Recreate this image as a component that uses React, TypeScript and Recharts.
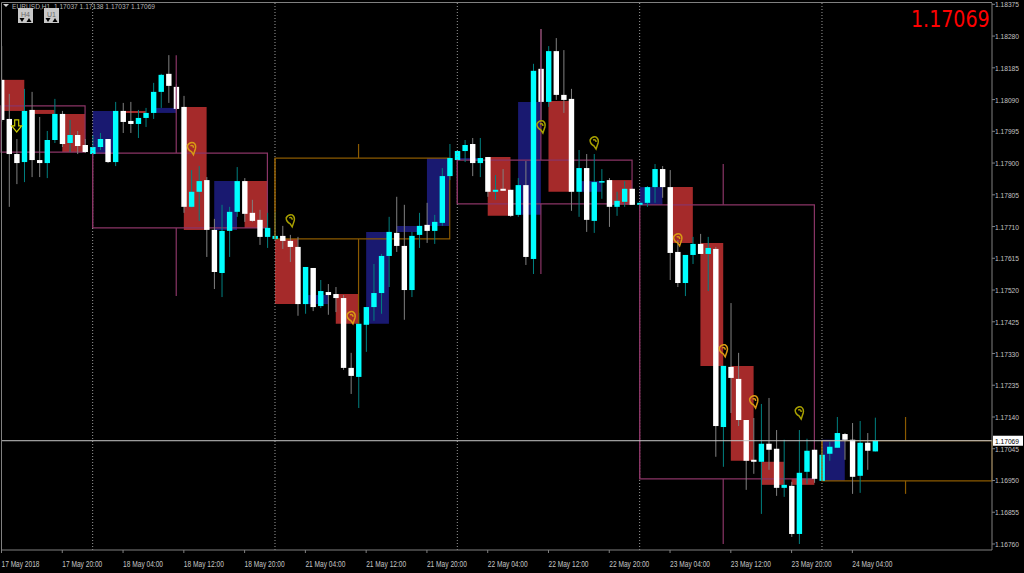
import { Bar, ComposedChart, ReferenceArea, ReferenceLine, Scatter, XAxis, YAxis } from 'recharts';

// EURUSD H1 candles, oldest first, starting 17 May 2018 12:00
const opens = [
  1.18149, 1.18032, 1.17927, 1.17903, 1.18059, 1.17909, 1.17900, 1.17969, 1.18047, 1.17960, 1.17984, 1.17954,
  1.17927, 1.17948, 1.17972, 1.17903, 1.18056, 1.18026, 1.18017, 1.18035, 1.18050, 1.18113, 1.18167, 1.18128,
  1.18068, 1.17769, 1.17814, 1.17849, 1.17700, 1.17571, 1.17697, 1.17754, 1.17846, 1.17751, 1.17730, 1.17679,
  1.17673, 1.17682, 1.17667, 1.17649, 1.17478, 1.17586, 1.17472, 1.17514, 1.17508, 1.17496, 1.17287, 1.17260,
  1.17416, 1.17469, 1.17511, 1.17622, 1.17691, 1.17652, 1.17520, 1.17685, 1.17715, 1.17697, 1.17721, 1.17861,
  1.17909, 1.17936, 1.17957, 1.17900, 1.17918, 1.17814, 1.17823, 1.17820, 1.17745, 1.17834, 1.17613, 1.18182,
  1.18083, 1.18235, 1.18104, 1.18092, 1.17814, 1.17885, 1.17727, 1.17843, 1.17849, 1.17769, 1.17784, 1.17823,
  1.17775, 1.17781, 1.17828, 1.17882, 1.17828, 1.17634, 1.17541, 1.17625, 1.17658, 1.17628, 1.17643, 1.17110,
  1.17290, 1.17254, 1.17131, 1.17012, 1.17006, 1.17060, 1.17045, 1.16928, 1.16934, 1.16790, 1.16976, 1.17042,
  1.16949, 1.17030, 1.17048, 1.17089, 1.17072, 1.16964, 1.17063, 1.17037,
];
const highs = [
  1.18250, 1.18107, 1.17972, 1.18122, 1.18113, 1.18038, 1.17996, 1.18092, 1.18056, 1.18029, 1.17996, 1.17972,
  1.17984, 1.17990, 1.17972, 1.18083, 1.18080, 1.18083, 1.18059, 1.18065, 1.18140, 1.18167, 1.18223, 1.18137,
  1.18101, 1.17879, 1.17891, 1.17858, 1.17733, 1.17775, 1.17769, 1.17888, 1.17855, 1.17790, 1.17760, 1.17751,
  1.17754, 1.17712, 1.17685, 1.17679, 1.17589, 1.17586, 1.17550, 1.17538, 1.17529, 1.17505, 1.17332, 1.17452,
  1.17469, 1.17598, 1.17628, 1.17739, 1.17799, 1.17775, 1.17694, 1.17751, 1.17781, 1.17745, 1.17885, 1.17957,
  1.17936, 1.17969, 1.17975, 1.17975, 1.17918, 1.17864, 1.17882, 1.17820, 1.17855, 1.17906, 1.18197, 1.18301,
  1.18250, 1.18274, 1.18238, 1.18122, 1.17939, 1.17927, 1.17927, 1.17882, 1.17855, 1.17814, 1.17846, 1.17823,
  1.17781, 1.17831, 1.17897, 1.17891, 1.17879, 1.17670, 1.17625, 1.17679, 1.17688, 1.17679, 1.17649, 1.17293,
  1.17481, 1.17332, 1.17131, 1.17137, 1.17179, 1.17197, 1.17101, 1.17072, 1.16946, 1.17101, 1.17075, 1.17042,
  1.17042, 1.17066, 1.17140, 1.17092, 1.17122, 1.17128, 1.17092, 1.17138,
];
const lows = [
  1.18023, 1.17769, 1.17837, 1.17843, 1.17858, 1.17858, 1.17855, 1.17960, 1.17948, 1.17933, 1.17927, 1.17930,
  1.17924, 1.17939, 1.17900, 1.17891, 1.17990, 1.17990, 1.17975, 1.18008, 1.18032, 1.18065, 1.18080, 1.18059,
  1.17751, 1.17766, 1.17727, 1.17619, 1.17523, 1.17499, 1.17619, 1.17739, 1.17724, 1.17724, 1.17655, 1.17646,
  1.17670, 1.17643, 1.17604, 1.17443, 1.17449, 1.17457, 1.17466, 1.17446, 1.17454, 1.17281, 1.17209, 1.17167,
  1.17335, 1.17428, 1.17449, 1.17529, 1.17634, 1.17431, 1.17499, 1.17646, 1.17661, 1.17658, 1.17712, 1.17849,
  1.17900, 1.17903, 1.17861, 1.17858, 1.17799, 1.17790, 1.17817, 1.17739, 1.17739, 1.17595, 1.17568, 1.18029,
  1.18068, 1.18089, 1.18050, 1.17757, 1.17739, 1.17694, 1.17691, 1.17793, 1.17709, 1.17742, 1.17769, 1.17775,
  1.17769, 1.17769, 1.17781, 1.17796, 1.17550, 1.17529, 1.17502, 1.17598, 1.17628, 1.17517, 1.17021, 1.16991,
  1.17152, 1.17113, 1.16922, 1.16970, 1.16850, 1.16982, 1.16904, 1.16901, 1.16781, 1.16760, 1.16940, 1.16943,
  1.16949, 1.17009, 1.17048, 1.17012, 1.16910, 1.16913, 1.16982, 1.17037,
];
const closes = [
  1.18029, 1.17927, 1.17900, 1.18056, 1.17909, 1.17900, 1.17969, 1.18047, 1.17957, 1.17984, 1.17951, 1.17933,
  1.17948, 1.17972, 1.17903, 1.18056, 1.18023, 1.18017, 1.18035, 1.18050, 1.18113, 1.18164, 1.18131, 1.18062,
  1.17769, 1.17814, 1.17846, 1.17700, 1.17574, 1.17697, 1.17754, 1.17846, 1.17748, 1.17727, 1.17679, 1.17706,
  1.17682, 1.17667, 1.17649, 1.17478, 1.17589, 1.17469, 1.17517, 1.17505, 1.17496, 1.17287, 1.17263, 1.17419,
  1.17469, 1.17511, 1.17622, 1.17694, 1.17652, 1.17520, 1.17682, 1.17712, 1.17697, 1.17724, 1.17861, 1.17915,
  1.17936, 1.17954, 1.17900, 1.17915, 1.17814, 1.17820, 1.17817, 1.17742, 1.17834, 1.17619, 1.18176, 1.18083,
  1.18235, 1.18104, 1.18089, 1.17814, 1.17885, 1.17730, 1.17843, 1.17846, 1.17769, 1.17787, 1.17823, 1.17775,
  1.17781, 1.17828, 1.17882, 1.17828, 1.17631, 1.17541, 1.17625, 1.17658, 1.17628, 1.17646, 1.17113, 1.17293,
  1.17257, 1.17131, 1.17009, 1.17006, 1.17060, 1.17042, 1.16928, 1.16937, 1.16790, 1.16973, 1.17039, 1.16955,
  1.17027, 1.17051, 1.17092, 1.17072, 1.16961, 1.17063, 1.17039, 1.17069,
];

// H4 candles: [first H1 bar, open, close]
const h4Candles = [
  [0, 1.18149, 1.18056], [4, 1.18059, 1.18047], [8, 1.18047, 1.17933], [12, 1.17927, 1.18056],
  [16, 1.18056, 1.18050], [20, 1.18050, 1.18065], [24, 1.18068, 1.17700], [28, 1.17700, 1.17846],
  [32, 1.17846, 1.17706], [36, 1.17673, 1.17478], [40, 1.17478, 1.17505], [44, 1.17508, 1.17419],
  [48, 1.17419, 1.17694], [52, 1.17694, 1.17712], [56, 1.17712, 1.17915], [60, 1.17909, 1.17915],
  [64, 1.17918, 1.17742], [68, 1.17745, 1.18083], [72, 1.18086, 1.17814], [76, 1.17814, 1.17846],
  [80, 1.17849, 1.17775], [84, 1.17775, 1.17828], [88, 1.17828, 1.17661], [92, 1.17661, 1.17293],
  [96, 1.17293, 1.17009], [100, 1.17006, 1.16937], [104, 1.16955, 1.16937], [108, 1.16949, 1.17072],
];

// D1 candles: [first bar, last bar, wick bar, open, close, high, low]
const d1Candles = [
  [-0.066, 11, -1, 1.18071, 1.17933, 0, 0],
  [12, 35, 23, 1.17930, 1.17706, 1.18223, 1.17502],
  [36, 59, 47, 1.17673, 1.17915, 1.17957, 1.17419],
  [60, 83, 71, 1.17909, 1.17778, 1.18301, 1.17568],
  [84, 107, 95, 1.17775, 1.16955, 1.17897, 1.16760],
  [108, 130.38, 119, 1.16949, 1.17069, 1.17140, 1.16910],
];

const signals = [
  { i: 25, price: 1.17943, hot: true }, { i: 38, price: 1.17727, hot: false }, { i: 46, price: 1.17437, hot: true },
  { i: 71, price: 1.18008, hot: false }, { i: 78, price: 1.1796, hot: false }, { i: 89, price: 1.1767, hot: true },
  { i: 95, price: 1.17338, hot: true }, { i: 99, price: 1.17185, hot: true }, { i: 105, price: 1.17152, hot: false },
];
const arrows = [{ i: 2, price: 1.18011 }];

const yTicks = [
  1.18375, 1.1828, 1.18185, 1.1809, 1.17995, 1.179, 1.17805, 1.1771, 1.17615, 1.1752, 1.17425, 1.1733, 1.17235,
  1.1714, 1.17045, 1.1695, 1.16855, 1.1676,
];
const timeLabels = [
  '17 May 2018', '17 May 20:00', '18 May 04:00', '18 May 12:00', '18 May 20:00', '21 May 04:00', '21 May 12:00',
  '21 May 20:00', '22 May 04:00', '22 May 12:00', '22 May 20:00', '23 May 04:00', '23 May 12:00', '23 May 20:00',
  '24 May 04:00',
];
const timeTicks = timeLabels.map((_, n) => n * 8);
const daySeparators = [12, 36, 60, 84, 108];
const lastPrice = 1.17069;

const candles = opens.map((open, i) => ({
  i,
  open,
  close: closes[i],
  range: [lows[i], highs[i]],
}));

const FONT = '"Liberation Sans", Arial, sans-serif';
const BROWN = '#a52a2a';
const BLUE = '#191970';
const BEAR_LINE = '#8a3566';
const BULL_LINE = '#8b5a00';

function Candle(props: any) {
  const { x, y, width, height, payload } = props;
  const [low, high] = payload.range;
  const perUnit = height / (high - low);
  const cx = x + width / 2;
  const top = y + (high - Math.max(payload.open, payload.close)) * perUnit;
  const bottom = y + (high - Math.min(payload.open, payload.close)) * perUnit;
  const up = payload.close >= payload.open;
  return (
    <g>
      <line x1={cx} x2={cx} y1={y} y2={y + height} stroke={up ? '#008080' : '#808080'} strokeWidth={1} />
      <rect x={cx - 2.7} y={top} width={5.4} height={Math.max(bottom - top, 1.5)} fill={up ? '#00ffff' : '#ffffff'} />
    </g>
  );
}

function SignalMark(props: any) {
  const { cx, cy, payload } = props;
  const color = payload.hot ? '#d99a14' : '#a8a000';
  return (
    <g fill="none" stroke={color} strokeWidth={1.5}>
      <path d={`M${cx - 4} ${cy - 3} Q${cx - 2} ${cy - 7} ${cx + 2} ${cy - 6} Q${cx + 5} ${cy - 4} ${cx + 4} ${cy} Q${cx + 3} ${cy + 3} ${cx + 2} ${cy + 6} L${cx} ${cy + 3} Q${cx - 4} ${cy + 1} ${cx - 4} ${cy - 3} Z`} />
      <path d={`M${cx - 1} ${cy - 3} Q${cx + 2} ${cy - 4} ${cx + 2} ${cy - 1}`} />
    </g>
  );
}

function ArrowMark(props: any) {
  const { cx, cy } = props;
  return (
    <path
      d={`M${cx - 2} ${cy - 6} H${cx + 2} V${cy} H${cx + 5} L${cx} ${cy + 6} L${cx - 5} ${cy} H${cx - 2} Z`}
      fill="none"
      stroke="#c8c800"
      strokeWidth={1.2}
    />
  );
}

function PriceTick(props: any) {
  const { x, y, payload } = props;
  return (
    <text x={x - 2} y={y + 3} fill="#c4c4c4" fontFamily={FONT} fontSize={8} textLength={24} lengthAdjust="spacingAndGlyphs">
      {payload.value.toFixed(5)}
    </text>
  );
}

function TimeTick(props: any) {
  const { x, y, payload } = props;
  const label = timeLabels[payload.value / 8];
  return (
    <text x={x} y={y + 12} fill="#c4c4c4" fontFamily={FONT} fontSize={9} textLength={label.length === 11 ? 38 : 40} lengthAdjust="spacingAndGlyphs">
      {label}
    </text>
  );
}

function PriceTag(props: any) {
  const { viewBox } = props;
  const y = viewBox.y;
  return (
    <g>
      <rect x={993} y={y - 5} width={30} height={10} fill="#ffffff" />
      <text x={995} y={y + 3} fill="#000000" fontFamily={FONT} fontSize={8} textLength={24} lengthAdjust="spacingAndGlyphs">
        {lastPrice.toFixed(5)}
      </text>
    </g>
  );
}

function TimeframeButton({ x, label }: { x: number; label: string }) {
  return (
    <g>
      <rect x={x} y={8} width={15} height={15} fill="#c8c8c8" />
      <text x={x + 7.5} y={17} fill="#6a6a6a" fontFamily={FONT} fontSize={7} textAnchor="middle">{label}</text>
      <path d={`M${x + 1.5} ${18} h5 l-2.5 4 Z`} fill="#000000" />
      <path d={`M${x + 8.5} ${22} h5 l-2.5 -4 Z`} fill="#000000" />
    </g>
  );
}

export default function App() {
  return (
    <div style={{ position: 'absolute', left: 0, top: 0, width: 1024, height: 573, background: '#000000', overflow: 'hidden' }}>
      <ComposedChart width={1024} height={573} data={candles} margin={{ top: 3, right: 0, bottom: 0, left: 1 }}>
        <XAxis
          dataKey="i"
          type="number"
          domain={[-0.066, 130.38]}
          ticks={timeTicks}
          interval={0}
          height={23}
          stroke="#808080"
          tickSize={3}
          tick={<TimeTick />}
          allowDataOverflow
        />
        <YAxis
          orientation="right"
          type="number"
          domain={[1.16742, 1.18379]}
          ticks={yTicks}
          interval={0}
          width={32}
          stroke="#808080"
          tickSize={3}
          tick={<PriceTick />}
          allowDataOverflow
        />
        {h4Candles.map(([start, open, close]) => (
          <ReferenceArea
            key={start}
            x1={start}
            x2={start + 3}
            y1={open}
            y2={close}
            fill={close >= open ? BLUE : BROWN}
            fillOpacity={1}
            stroke="none"
          />
        ))}
        {d1Candles.map(([first, last, wick, open, close]) => (
          <ReferenceArea
            key={first}
            x1={first}
            x2={last}
            y1={open}
            y2={close}
            fill="none"
            stroke={close >= open ? BULL_LINE : BEAR_LINE}
            strokeWidth={1.2}
          />
        ))}
        {daySeparators.map((i) => (
          <ReferenceLine key={i} x={i} stroke="#9a9a9a" strokeDasharray="1 2" />
        ))}
        {/* left edges again, the day separators must not show through them */}
        {d1Candles.filter((d) => d[2] >= 0).map(([first, last, wick, open, close]) => (
          <ReferenceLine
            key={`edge${first}`}
            segment={[{ x: first, y: open }, { x: first, y: close }]}
            stroke={close >= open ? BULL_LINE : BEAR_LINE}
            strokeWidth={1.2}
          />
        ))}
        {d1Candles.filter((d) => d[2] >= 0).map(([first, last, wick, open, close, high, low]) => (
          <ReferenceLine
            key={`up${wick}`}
            segment={[{ x: wick, y: high }, { x: wick, y: Math.max(open, close) }]}
            stroke={close >= open ? BULL_LINE : BEAR_LINE}
            strokeWidth={1.2}
          />
        ))}
        {d1Candles.filter((d) => d[2] >= 0).map(([first, last, wick, open, close, high, low]) => (
          <ReferenceLine
            key={`down${wick}`}
            segment={[{ x: wick, y: Math.min(open, close) }, { x: wick, y: low }]}
            stroke={close >= open ? BULL_LINE : BEAR_LINE}
            strokeWidth={1.2}
          />
        ))}
        <Bar dataKey="range" barSize={6} shape={<Candle />} isAnimationActive={false} />
        <ReferenceLine y={lastPrice} stroke="#c8c8c8" strokeWidth={1} label={<PriceTag />} />
        <Scatter data={signals} dataKey="price" shape={<SignalMark />} isAnimationActive={false} />
        <Scatter data={arrows} dataKey="price" shape={<ArrowMark />} isAnimationActive={false} />
      </ComposedChart>
      <svg width={1024} height={573} style={{ position: 'absolute', left: 0, top: 0, pointerEvents: 'none' }}>
        <path d="M1.5 550 V2.5 H992" fill="none" stroke="#808080" strokeWidth={1} />
        <path d="M3 4 h6 l-3 3 Z" fill="#d0d0d0" />
        <text x={12} y={8.5} fill="#b4b4b4" fontFamily={FONT} fontSize={8} textLength={143} lengthAdjust="spacingAndGlyphs" xmlSpace="preserve">
          EURUSD,H1  1.17037 1.17138 1.17037 1.17069
        </text>
        <TimeframeButton x={18} label="H4" />
        <TimeframeButton x={44} label="U1" />
        <text transform="translate(911 27) scale(0.81 1)" fill="#ff0000" fontFamily='"DejaVu Sans", sans-serif' fontSize={23.5}>
          1.17069
        </text>
      </svg>
    </div>
  );
}
